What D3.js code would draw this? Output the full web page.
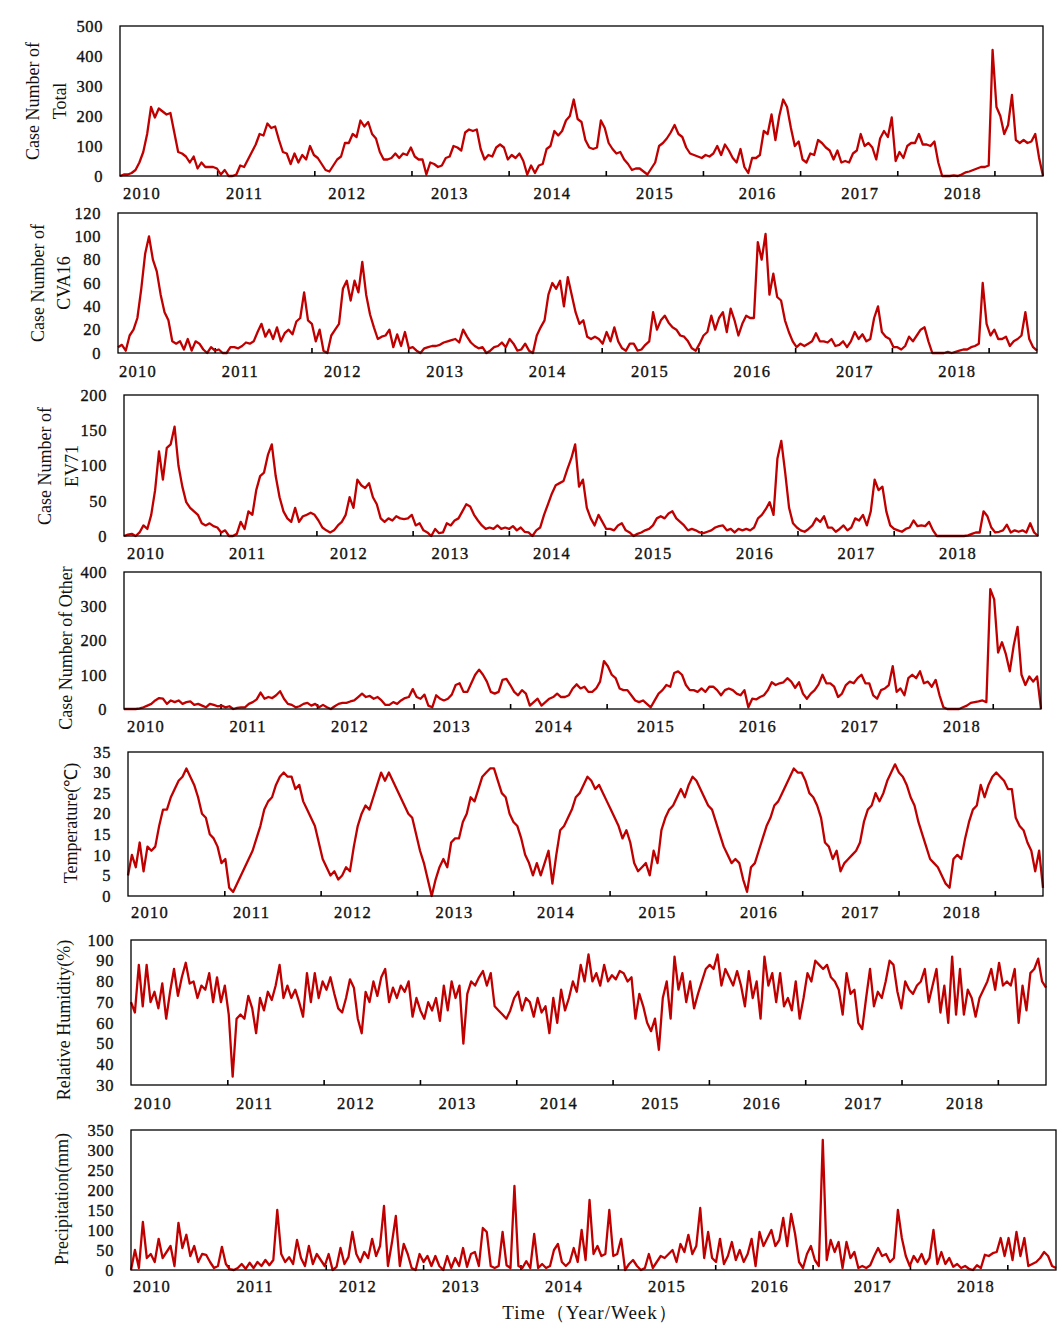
<!DOCTYPE html>
<html><head><meta charset="utf-8">
<script src="https://cdn.jsdelivr.net/npm/d3@7"></script>
<style>
body{margin:0;background:#fff;}
text{font-family:"Liberation Serif","Times New Roman",serif;fill:#111;}
</style>
</head><body>
<svg id="c" width="1062" height="1339"></svg>
<script>
// ---------- data (bi-weekly readings, 2010 .. 2018) ----------
const years = ["2010","2011","2012","2013","2014","2015","2016","2017","2018"];
const tickWeeks = [50,100,150,200,250,300,350,400,450];

const totalCases = [
 0,5,5,10,20,45,80,140,230,195,225,215,205,210,145,80,75,65,45,65,25,45,30,30,30,25,
 5,20,0,0,5,35,30,55,80,105,140,135,175,160,165,120,80,75,40,75,45,70,55,100,70,60,
 40,20,15,35,55,65,110,110,140,130,185,165,180,140,125,80,55,55,60,75,60,75,70,95,65,55,
 55,5,45,40,30,35,60,65,100,95,85,145,155,150,155,90,55,70,65,95,105,95,55,70,60,75,
 50,5,35,10,35,40,90,100,150,135,150,185,200,255,190,180,120,95,90,95,185,160,110,90,75,80,
 55,40,20,25,25,15,5,25,45,100,110,125,145,170,140,130,95,75,70,65,60,70,65,75,100,70,
 105,85,60,45,90,30,10,60,60,70,150,140,205,120,200,255,230,160,100,115,55,45,75,70,120,110,
 95,85,55,85,45,50,45,75,85,140,100,110,95,55,125,150,130,195,50,80,60,100,110,110,140,105,
 105,100,115,45,0,0,0,2,0,5,12,15,20,25,30,30,35,420,230,200,140,170,270,120,110,120,110,115,140,60,0
];
const cva16Cases = [
 5,7,2,15,20,30,55,85,100,80,70,50,35,28,10,8,10,3,12,2,10,8,3,0,5,2,
 3,0,0,5,5,4,6,9,8,10,18,25,14,20,12,22,10,17,20,16,27,30,52,28,25,10,
 20,2,0,15,20,25,55,62,45,62,52,78,50,33,22,12,14,15,20,5,16,6,18,4,5,2,
 0,4,5,6,6,7,9,10,11,12,9,20,14,9,6,4,5,0,2,5,6,9,5,12,8,2,
 3,8,2,0,15,22,28,50,60,55,62,40,65,50,35,25,28,14,12,14,12,8,18,10,22,10,
 4,2,8,8,2,3,7,10,35,20,28,32,26,22,20,15,14,10,4,2,8,15,18,32,20,30,
 35,18,38,28,15,25,32,30,30,95,80,102,50,68,48,45,28,18,10,5,8,6,8,10,17,10,
 10,9,12,6,7,10,5,10,18,12,16,10,12,30,40,18,14,12,5,5,3,6,14,10,15,20,
 22,10,0,0,0,0,1,0,1,2,3,3,5,6,8,60,25,15,20,12,12,14,6,10,12,15,35,12,5,2
];
const ev71Cases = [
 0,2,3,0,5,15,10,30,65,120,80,125,130,155,100,70,48,40,35,30,18,15,18,14,12,5,
 8,0,0,3,20,10,35,30,65,85,90,115,130,85,55,35,25,20,40,20,28,30,33,30,22,12,
 8,5,8,15,20,30,55,40,80,72,68,75,55,45,25,20,25,22,28,25,24,25,30,15,18,8,
 5,0,10,4,5,18,15,22,25,35,45,42,30,22,15,10,12,10,15,10,12,10,14,8,12,6,
 5,0,8,12,30,45,60,72,75,78,95,110,130,70,80,40,25,15,30,20,10,10,8,15,18,8,
 5,0,3,5,8,10,15,25,28,25,32,35,25,20,15,8,10,8,5,4,6,8,12,14,15,8,
 10,5,10,8,10,8,12,25,30,38,48,30,110,135,90,40,18,12,8,6,10,15,25,20,28,12,
 12,6,10,15,8,12,25,22,30,15,35,80,65,70,35,15,10,8,6,10,12,22,14,15,14,20,
 8,0,0,0,0,0,0,0,0,1,3,5,5,35,28,12,5,6,8,16,5,8,6,8,5,18,5,0
];
const otherCases = [
 0,0,0,0,2,5,10,15,25,32,30,15,25,20,25,15,20,22,12,15,10,5,15,12,8,10,
 5,8,0,3,5,5,15,20,28,48,30,35,32,40,52,30,15,12,5,8,15,18,10,15,5,12,
 5,0,8,15,18,18,22,25,35,45,35,38,30,35,25,12,12,20,15,25,32,35,58,35,30,42,
 10,5,40,30,25,30,42,70,75,50,50,75,100,115,100,80,50,45,50,85,88,70,50,40,55,45,
 10,20,30,10,20,30,35,45,35,35,40,60,72,60,65,50,50,60,80,140,125,100,90,60,55,55,
 40,25,20,25,15,5,25,45,55,70,65,105,110,100,70,55,55,50,60,50,65,65,55,40,55,60,
 55,45,40,55,5,30,28,35,40,55,78,70,75,78,90,80,62,78,45,30,45,55,72,100,75,75,
 65,35,45,70,80,75,90,100,75,75,40,30,55,60,70,125,50,60,40,90,100,90,110,75,80,65,
 85,40,5,0,0,0,0,5,10,18,20,22,25,20,350,320,165,195,160,110,185,240,100,70,95,80,95,0
];
const temperature = [
 5,10,7,13,6,12,11,12,17,21,21,24,26,28,29,31,29,27,24,20,19,15,14,12,8,9,
 2,1,3,5,7,9,11,14,17,21,23,24,27,29,30,29,29,26,27,23,21,19,17,13,9,7,
 5,6,4,5,7,6,12,17,20,22,21,24,27,30,28,30,28,26,24,22,20,19,15,11,8,4,
 0,4,7,9,7,13,14,14,18,20,24,23,26,29,30,31,31,28,25,24,20,18,17,14,10,8,
 5,8,5,8,11,3,10,16,17,19,21,24,25,27,29,28,26,27,25,23,21,19,17,14,16,13,
 8,6,7,8,5,11,8,16,19,21,22,24,26,24,27,29,28,26,24,22,21,18,15,12,10,8,
 9,8,4,1,7,8,11,14,17,19,22,23,25,27,29,31,30,30,28,25,24,22,19,13,12,9,
 11,6,8,9,10,11,13,18,21,22,25,23,25,28,30,32,30,29,27,24,22,18,15,12,9,8,
 7,5,3,2,9,10,9,14,18,21,22,27,24,27,29,30,29,28,26,26,19,17,16,13,11,6,11,2
];
const humidity = [
 70,65,88,68,88,70,75,67,79,62,75,86,73,82,89,79,80,72,78,76,84,70,82,70,78,64,
 34,62,64,62,73,67,55,72,66,75,71,78,88,72,78,72,76,70,63,84,70,84,72,80,76,82,
 74,67,65,72,81,77,62,55,75,70,80,73,82,86,70,77,72,78,75,80,63,72,66,62,70,66,
 72,61,78,66,80,72,78,50,74,80,78,82,85,78,84,68,66,64,62,66,72,75,66,72,70,63,
 72,65,68,55,72,60,76,66,72,80,75,88,80,93,80,84,78,88,80,83,81,85,84,80,82,62,
 74,68,60,56,62,47,72,80,62,92,76,84,70,80,67,74,80,86,88,86,93,78,86,82,78,85,
 78,68,85,72,80,62,92,78,84,70,84,68,72,66,80,62,72,84,80,90,88,86,88,82,80,76,
 64,84,74,76,60,57,72,86,68,75,72,80,90,88,75,67,80,76,74,78,80,86,70,78,86,65,
 78,60,92,64,86,64,76,72,63,72,76,80,86,76,89,78,80,78,86,60,78,66,84,86,91,80,77
];
const precipitation = [
 0,50,5,120,30,40,20,78,30,45,60,10,118,55,88,35,60,20,40,38,20,5,10,58,15,2,
 0,5,15,3,18,5,20,10,25,12,25,150,40,20,32,15,75,30,10,60,15,40,25,10,40,0,
 8,55,15,32,95,40,20,45,30,78,35,60,160,10,68,135,10,65,40,5,0,40,20,35,10,35,
 10,0,35,5,30,10,55,8,40,45,10,105,95,10,5,10,95,12,5,210,10,5,22,5,90,5,
 15,5,10,50,65,20,10,20,55,20,100,25,175,40,60,35,40,150,35,40,78,0,15,25,10,0,
 5,40,5,20,35,30,40,50,20,65,45,88,40,60,155,30,95,30,20,78,15,35,70,25,50,20,
 40,78,10,95,60,80,100,60,75,130,60,140,90,20,5,40,60,25,10,325,25,75,45,70,5,70,
 30,45,5,10,5,12,35,55,35,40,20,30,150,80,35,10,35,20,40,15,30,100,15,45,15,30,
 8,15,5,10,3,0,12,5,38,35,42,45,80,35,80,25,95,35,80,10,15,20,30,45,35,10,5
];

const totalTicks = [0,100,200,300,400,500];
const cva16Ticks = [0,20,40,60,80,100,120];
const ev71Ticks = [0,50,100,150,200];
const otherTicks = [0,100,200,300,400];
const tempTicks = [0,5,10,15,20,25,30,35];
const humTicks = [30,40,50,60,70,80,90,100];
const precTicks = [0,50,100,150,200,250,300,350];

// ---------- layout ----------
const panels = [
 {data:totalCases, ticks:totalTicks, dom:[0,500], L:120,R:1043,T:26,B:176, title:["Case Number of","Total"], tx:[39,66], ty:101, ly:199, lo:22, ls:102.6},
 {data:cva16Cases, ticks:cva16Ticks, dom:[0,120], L:118,R:1037,T:213,B:353, title:["Case Number of","CVA16"], tx:[44,70], ty:283, ly:377, lo:20, ls:102.4},
 {data:ev71Cases, ticks:ev71Ticks, dom:[0,200], L:124,R:1038,T:395,B:536, title:["Case Number of","EV71"], tx:[51,78], ty:466, ly:559, lo:22, ls:101.5},
 {data:otherCases, ticks:otherTicks, dom:[0,400], L:124,R:1041,T:572,B:709, title:["Case Number of Other"], tx:[72], ty:648, ly:732, lo:22, ls:102},
 {data:temperature, ticks:tempTicks, dom:[0,35], L:128,R:1043,T:752,B:896, title:["Temperature(℃)"], tx:[77], ty:823, ly:918, lo:22, ls:101.5},
 {data:humidity, ticks:humTicks, dom:[30,100], L:131,R:1046,T:940,B:1085, title:["Relative Humidity(%)"], tx:[70], ty:1020, ly:1109, lo:22, ls:101.5},
 {data:precipitation, ticks:precTicks, dom:[0,350], L:131,R:1056,T:1130,B:1270, title:["Precipitation(mm)"], tx:[68], ty:1199, ly:1292, lo:21, ls:103}
];

const svg = d3.select("#c");

panels.forEach(p => {
  const g = svg.append("g");
  const x = d3.scaleLinear().domain([0, p.data.length - 1]).range([p.L, p.R]);
  const xw = d3.scaleLinear().domain([0, 475]).range([p.L, p.R]);
  const y = d3.scaleLinear().domain(p.dom).range([p.B, p.T]);

  // y axis labels
  const ya = g.append("g").attr("transform", `translate(${p.L},0)`)
    .call(d3.axisLeft(y).tickValues(p.ticks).tickSize(0).tickPadding(17).tickFormat(d3.format("d")));
  ya.select(".domain").remove();
  ya.selectAll("text").style("font-family","'Liberation Serif',serif").style("font-size","16.5px")
    .attr("letter-spacing","0.6").attr("fill","#111").attr("stroke","#111").attr("stroke-width",0.35);

  // x ticks (inner)
  const xa = g.append("g").attr("transform", `translate(0,${p.B})`)
    .call(d3.axisBottom(xw).tickValues(tickWeeks).tickSizeInner(-5).tickSizeOuter(0).tickFormat(""));
  xa.select(".domain").remove();
  xa.selectAll("line").attr("stroke","#000").attr("stroke-width",1.6);

  // line
  g.append("path").datum(p.data)
    .attr("fill","none").attr("stroke","#C00000").attr("stroke-width",2.3)
    .attr("stroke-linejoin","round")
    .attr("d", d3.line().x((d,i)=>x(i)).y(d=>y(d)));

  // frame
  g.append("rect").attr("x",p.L).attr("y",p.T).attr("width",p.R-p.L).attr("height",p.B-p.T)
    .attr("fill","none").attr("stroke","#000").attr("stroke-width",1.3);

  // year labels
  const yl = d3.scaleLinear().domain([0, years.length-1]).range([p.L+p.lo, p.L+p.lo+(years.length-1)*p.ls]);
  g.selectAll("text.yr").data(years).enter().append("text").attr("class","yr")
    .attr("x",(d,i)=>yl(i)).attr("y",p.ly).attr("text-anchor","middle")
    .style("font-size","16.5px").attr("letter-spacing","1.2")
    .attr("stroke","#111").attr("stroke-width",0.35).text(d=>d);

  // y title
  p.title.forEach((t,i) => {
    g.append("text").attr("transform",`translate(${p.tx[i]},${p.ty}) rotate(-90)`)
      .attr("text-anchor","middle").style("font-size","18px").text(t);
  });
});

svg.append("text").attr("x",590).attr("y",1319).attr("text-anchor","middle")
  .style("font-size","19px").attr("letter-spacing","1").text("Time（Year/Week）");
</script>
</body></html>
